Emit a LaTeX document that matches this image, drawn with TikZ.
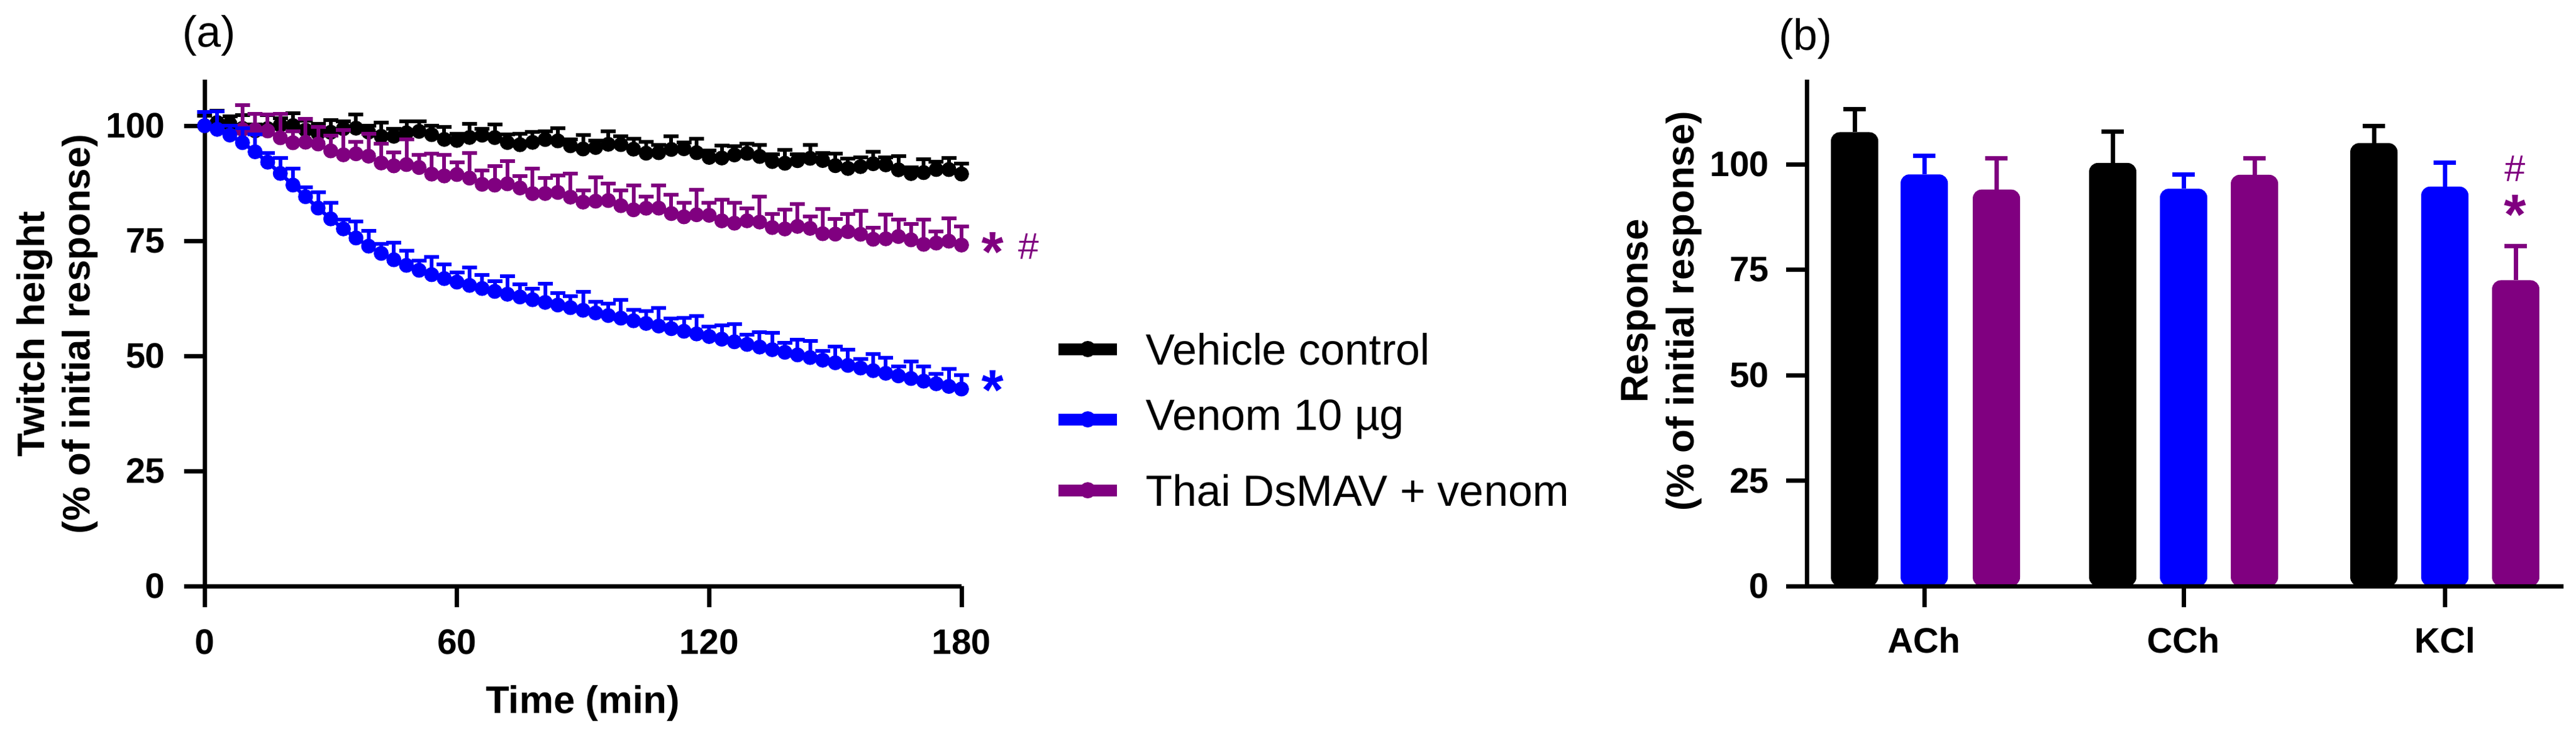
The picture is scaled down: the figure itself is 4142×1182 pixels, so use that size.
\documentclass[tikz,border=0pt]{standalone}
\usepackage{fontspec}
\setmainfont{Liberation Sans}
\definecolor{vblue}{RGB}{0,0,255}
\definecolor{vpurp}{RGB}{128,0,128}
\begin{document}
\begin{tikzpicture}[x=0.1mm,y=-0.1mm,
  axis/.style={line width=2mm*0.07*10, line cap=rect},
  tick/.style={font=\fontsize{16.2}{18}\selectfont\bfseries},
  ttl/.style={font=\fontsize{17.6}{21}\selectfont\bfseries, align=center},
  leg/.style={font=\fontsize{20}{24}\selectfont, anchor=west},
  ser/.style={line width=0.6mm},
  bar/.style={line width=0pt},
  declare function={
    kf(\t)=100-10.5*(\t/180)^1.3+0.8*sin(\t*23);
    bf(\t)=100-23*(1-exp(-(\t/30)^2))-0.19*\t;
    pf(\t)=100-38*(1-exp(-(\t-8)/150))+0.6*sin(\t*31);
    ax(\t)=329+6.761*\t;
    ay(\v)=942-7.4*\v;
    by(\v)=942-6.78*\v;
  }]
\useasboundingbox (0,0) rectangle (4142,1182);
% ---------- panel (a)
\node[font=\fontsize{20}{24}\selectfont] (la) at (336,57) {(a)};
% axes
\draw[line width=0.7mm] (329,128) -- (329,942) -- (1546,942);
\foreach \v in {0,25,50,75,100}{
  \draw[line width=0.7mm] (296,{ay(\v)}) -- (329,{ay(\v)});
  \node[tick,anchor=east] at (278,{ay(\v)}) {\v};
}
\foreach \t in {0,60,120,180}{
  \draw[line width=0.7mm] ({ax(\t)},942) -- ({ax(\t)},976);
  \node[tick] at ({ax(\t)},1032) {\t};
}
\node[ttl] (xa) at (937,1130) {Time (min)};
\node[ttl,rotate=90] (ya) at (92,537) {Twitch height\\(\% of initial response)};
% series: black
\foreach \t in {0,3,...,180}{
  \pgfmathsetmacro\py{ay(kf(\t))}\pgfmathsetmacro\pe{ay(kf(\t)+2.2+0.8*sin(\t*53))}
  \draw[ser,black] ({ax(\t)},\py) -- ({ax(\t)},\pe) ({ax(\t)-12},\pe) -- ({ax(\t)+12},\pe);
}
\draw[ser,black] plot[domain=0:180,samples=61] ({ax(\x)},{ay(kf(\x))});
\foreach \t in {0,3,...,180}{\fill[black] ({ax(\t)},{ay(kf(\t))}) circle (12);}
% purple
\foreach \t in {9,12,...,180}{
  \pgfmathsetmacro\py{ay(pf(\t))}\pgfmathsetmacro\pe{ay(pf(\t)+4+1.5*sin(\t*47))}
  \draw[ser,vpurp] ({ax(\t)},\py) -- ({ax(\t)},\pe) ({ax(\t)-12},\pe) -- ({ax(\t)+12},\pe);
}
\draw[ser,vpurp] plot[domain=9:180,samples=58] ({ax(\x)},{ay(pf(\x))});
\foreach \t in {9,12,...,180}{\fill[vpurp] ({ax(\t)},{ay(pf(\t))}) circle (12);}
% blue
\foreach \t in {0,3,...,180}{
  \pgfmathsetmacro\py{ay(bf(\t))}\pgfmathsetmacro\pe{ay(bf(\t)+3+1*sin(\t*41))}
  \draw[ser,vblue] ({ax(\t)},\py) -- ({ax(\t)},\pe) ({ax(\t)-12},\pe) -- ({ax(\t)+12},\pe);
}
\draw[ser,vblue] plot[domain=0:180,samples=61] ({ax(\x)},{ay(bf(\x))});
\foreach \t in {0,3,...,180}{\fill[vblue] ({ax(\t)},{ay(bf(\t))}) circle (12);}
% significance marks
\node[font=\fontsize{26}{28}\selectfont\bfseries,text=vpurp] (sp) at (1596,405) {*};
\node[font=\fontsize{17}{20}\selectfont,text=vpurp] (hp) at (1654,396) {\#};
\node[font=\fontsize{26}{28}\selectfont\bfseries,text=vblue] (sb) at (1596,627) {*};
% legend
\foreach \y/\c/\txt in {561/black/Vehicle control,674/vblue/Venom 10 µg/ml,788/vpurp/Thai DsMAV + venom}{
  \draw[line width=1.9mm,\c] (1702,\y) -- (1796,\y);
  \fill[\c] (1749,\y) circle (13);
  \node[leg] at (1830,\y) {\txt};
}
% ---------- panel (b)
\node[font=\fontsize{20}{24}\selectfont] (lb) at (2903,62) {(b)};
\foreach \c/\x/\v/\e in {black/2982/107.6/113, vblue/3094/97.6/102, vpurp/3210/94/101.4,
                         black/3397/100.3/107.8, vblue/3511/94.2/97.5, vpurp/3625/97.5/101.4,
                         black/3817/105/109, vblue/3931/94.7/100.3, vpurp/4045/72.5/80.6}{
  \draw[\c,line width=0.7mm] (\x,{by(\v)}) -- (\x,{by(\e)}) (\x-18,{by(\e)}) -- (\x+18,{by(\e)});
  \fill[\c,rounded corners=4] (\x-38,942) rectangle (\x+38,{by(\v)});
}
\draw[line width=0.7mm] (2905,128) -- (2905,942) -- (4122,942);
\draw[line width=0.7mm] (2872,942) -- (4122,942);
\foreach \v in {0,25,50,75,100}{
  \draw[line width=0.7mm] (2872,{by(\v)}) -- (2905,{by(\v)});
  \node[tick,anchor=east] at (2857,{by(\v)}) {\v};
}
\foreach \x/\l in {3094/ACh,3511/CCh,3931/KCl}{
  \draw[line width=0.7mm] (\x,942) -- (\x,976);
  \node[tick] at (\x,1029) {\l};
}
\node[ttl,rotate=90] (yb) at (2672,500) {Response\\(\% of initial response)};
\node[font=\fontsize{17}{20}\selectfont,text=vpurp] (hb) at (4044,271) {\#};
\node[font=\fontsize{26}{28}\selectfont\bfseries,text=vpurp] (sk) at (4044,345) {*};
\end{tikzpicture}
\end{document}
